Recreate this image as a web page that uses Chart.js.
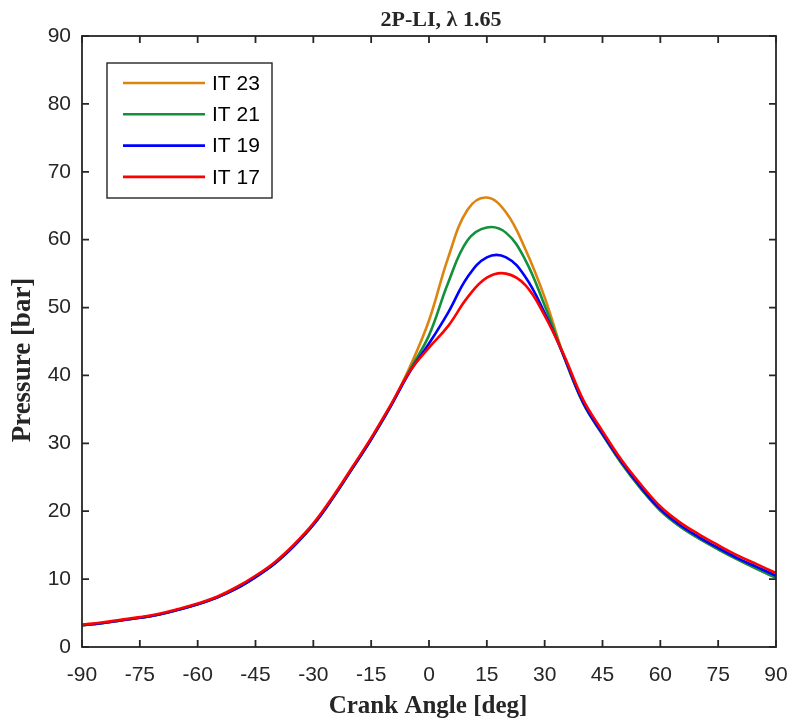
<!DOCTYPE html>
<html>
<head>
<meta charset="utf-8">
<script src="https://cdn.jsdelivr.net/npm/chart.js@4.4.1/dist/chart.umd.min.js"></script>
<style>
  html, body { margin: 0; padding: 0; background: #fff; }
  #wrap { width: 791px; height: 725px; }
</style>
</head>
<body>
<div id="wrap"><canvas id="myChart" width="791" height="725"></canvas></div>
<script>
// crank angle samples [deg]
const angles = [-90, -85, -80, -75, -70, -65, -60, -55, -50, -45, -40, -35, -30, -25, -20, -15, -10, -5,
  0, 5, 10, 15, 20, 25, 30, 35, 40, 45, 50, 55, 60, 65, 70, 75, 80, 85, 90];

// pressure [bar] for each ignition timing
const it23 = [3.2, 3.5, 3.9, 4.3, 4.8, 5.5, 6.3, 7.3, 8.6, 10.3, 12.3, 14.9, 18.0, 21.9, 26.2, 30.6, 35.4, 41.2,
  48.1, 57.4, 64.4, 66.2, 64.0, 58.6, 51.5, 42.8, 35.9, 31.3, 27.0, 23.3, 20.1, 17.8, 16.0, 14.4, 12.9, 11.5, 10.2];
const it21 = [3.2, 3.5, 3.9, 4.3, 4.8, 5.5, 6.3, 7.3, 8.6, 10.3, 12.3, 14.9, 18.0, 21.9, 26.2, 30.6, 35.4, 40.8,
  45.9, 53.7, 59.9, 61.8, 61.0, 57.0, 50.3, 42.8, 35.9, 31.3, 27.0, 23.3, 20.1, 17.8, 16.0, 14.4, 12.9, 11.5, 10.2];
const it19 = [3.2, 3.5, 3.9, 4.3, 4.8, 5.5, 6.3, 7.3, 8.6, 10.3, 12.3, 14.9, 18.0, 21.9, 26.2, 30.6, 35.4, 40.5,
  44.7, 49.3, 54.5, 57.4, 57.4, 54.5, 49.2, 42.8, 36.0, 31.4, 27.2, 23.5, 20.3, 18.0, 16.2, 14.6, 13.1, 11.8, 10.5];
const it17 = [3.3, 3.6, 4.0, 4.4, 4.9, 5.6, 6.4, 7.4, 8.8, 10.5, 12.5, 15.1, 18.2, 22.1, 26.4, 30.8, 35.6, 40.6,
  44.1, 47.3, 51.5, 54.4, 55.0, 53.3, 48.8, 43.0, 36.4, 31.8, 27.5, 23.9, 20.7, 18.4, 16.6, 15.0, 13.5, 12.2, 10.9];

const seriesNames = ['IT 23', 'IT 21', 'IT 19', 'IT 17'];
const seriesColors = ['#DD8410', '#13913A', '#0000FF', '#FF0000'];
const seriesValues = [it23, it21, it19, it17];

const xTicks = [-90, -75, -60, -45, -30, -15, 0, 15, 30, 45, 60, 75, 90];
const yTicks = [0, 10, 20, 30, 40, 50, 60, 70, 80, 90];

const axisColor = '#262626';
const tickFont = { family: 'Liberation Sans, Arial, sans-serif', size: 21 };

// frame, inward ticks on all four sides, titles and the legend box
const framePlugin = {
  id: 'frame',
  afterDraw(chart) {
    const { ctx, chartArea: a, scales } = chart;
    ctx.save();
    ctx.strokeStyle = axisColor;
    ctx.lineWidth = 1.8;
    ctx.strokeRect(a.left, a.top, a.right - a.left, a.bottom - a.top);
    const tl = 7;
    ctx.beginPath();
    xTicks.forEach(v => {
      const px = scales.x.getPixelForValue(v);
      ctx.moveTo(px, a.bottom); ctx.lineTo(px, a.bottom - tl);
      ctx.moveTo(px, a.top); ctx.lineTo(px, a.top + tl);
    });
    yTicks.forEach(v => {
      const py = scales.y.getPixelForValue(v);
      ctx.moveTo(a.left, py); ctx.lineTo(a.left + tl, py);
      ctx.moveTo(a.right, py); ctx.lineTo(a.right - tl, py);
    });
    ctx.stroke();

    // titles
    ctx.fillStyle = axisColor;
    ctx.textAlign = 'center';
    ctx.textBaseline = 'middle';
    ctx.font = 'bold 22px "Liberation Serif", "Times New Roman", serif';
    ctx.fillText('2P-LI, \u03bb 1.65', 441, 20);
    ctx.font = 'bold 25px "Liberation Serif", "Times New Roman", serif';
    ctx.fillText('Crank Angle [deg]', 428, 707);
    ctx.save();
    ctx.translate(23, 360);
    ctx.rotate(-Math.PI / 2);
    ctx.font = 'bold 27px "Liberation Serif", "Times New Roman", serif';
    ctx.fillText('Pressure [bar]', 0, 0);
    ctx.restore();

    // legend
    ctx.fillStyle = '#fff';
    ctx.fillRect(107, 63, 165, 135);
    ctx.strokeStyle = axisColor;
    ctx.lineWidth = 1.4;
    ctx.strokeRect(107, 63, 165, 135);
    ctx.font = '21px "Liberation Sans", Arial, sans-serif';
    ctx.textAlign = 'left';
    chart.data.datasets.forEach((ds, i) => {
      const y = 83 + i * 31.3;
      ctx.strokeStyle = ds.borderColor;
      ctx.lineWidth = 2.6;
      ctx.beginPath();
      ctx.moveTo(123, y); ctx.lineTo(205, y);
      ctx.stroke();
      ctx.fillStyle = '#000';
      ctx.fillText(ds.label, 212, y + 1);
    });
    ctx.restore();
  }
};

const datasets = seriesNames.map((name, i) => ({
  label: name,
  data: angles.map((a, j) => ({ x: a, y: seriesValues[i][j] })),
  borderColor: seriesColors[i],
  backgroundColor: 'transparent',
  borderWidth: 2.6,
  pointRadius: 0,
  tension: 0.4,
  fill: false,
  order: seriesNames.length - i
}));

const myChart = new Chart(document.getElementById('myChart'), {
  type: 'line',
  data: { datasets },
  options: {
    responsive: false,
    animation: false,
    layout: { padding: { top: 36, right: 15, left: 0, bottom: 0 } },
    plugins: { legend: { display: false }, tooltip: { enabled: false } },
    scales: {
      x: {
        type: 'linear',
        min: -90, max: 90,
        afterBuildTicks: s => { s.ticks = xTicks.map(v => ({ value: v })); },
        afterFit: s => { s.height = 78; s.paddingLeft = 0; s.paddingRight = 0; },
        grid: { display: false, drawTicks: false },
        border: { display: false },
        ticks: { font: tickFont, color: axisColor, padding: 16, maxRotation: 0, autoSkip: false }
      },
      y: {
        type: 'linear',
        min: 0, max: 90,
        afterBuildTicks: s => { s.ticks = yTicks.map(v => ({ value: v })); },
        afterFit: s => { s.width = 82; s.paddingTop = 0; s.paddingBottom = 0; },
        grid: { display: false, drawTicks: false },
        border: { display: false },
        ticks: { font: tickFont, color: axisColor, padding: 11 }
      }
    }
  },
  plugins: [framePlugin]
});
</script>
</body>
</html>
